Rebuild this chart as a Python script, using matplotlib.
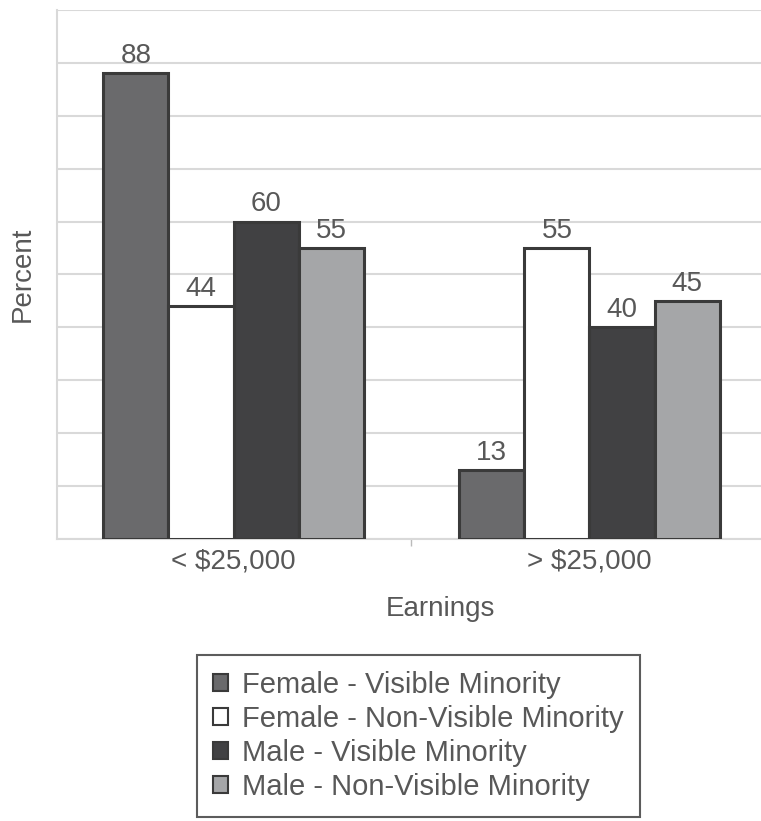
import numpy as np
import matplotlib
matplotlib.use("Agg")
import matplotlib.pyplot as plt
from matplotlib.patches import Patch

# data
categories = ["< $25,000", "> $25,000"]
series = ["Female - Visible Minority", "Female - Non-Visible Minority",
          "Male - Visible Minority", "Male - Non-Visible Minority"]
female_vis = [88, 13]
female_nonvis = [44, 55]
male_vis = [60, 40]
male_nonvis = [55, 45]

values = [female_vis, female_nonvis, male_vis, male_nonvis]
colors = ["#6a6a6c", "#ffffff", "#414143", "#a5a6a8"]
edge = "#3a3a3a"
text_col = "#585858"
fs = 20

plt.rcParams['font.family'] = ['Liberation Sans', 'DejaVu Sans']

fig = plt.figure(figsize=(7.61, 8.21), dpi=100)
ax = fig.add_axes([0.0749, 0.3435, 0.9251, 0.6445])

x = np.arange(len(categories))
w = 0.183
for i, vals in enumerate(values):
    pos = x + (i - 1.5) * w
    bars = ax.bar(pos, vals, width=w, color=colors[i], edgecolor=edge,
                  linewidth=2.2, zorder=3)
    for b, v in zip(bars, vals):
        ax.text(b.get_x() + b.get_width() / 2, v + 0.8, str(v),
                ha="center", va="bottom", fontsize=fs, color=text_col)

ax.set_xlim(-0.496, 1.482)
ax.set_ylim(0, 100)
ax.set_yticks(np.arange(0, 101, 10))
ax.set_yticklabels([])
ax.tick_params(axis="y", length=0)
ax.grid(axis="y", color="#d9d9d9", linewidth=1.5, zorder=0)

ax.set_xticks([0.5], minor=True)
ax.tick_params(axis="x", which="minor", length=5, color="#bbbbbb", width=1)
ax.set_xticks(x)
ax.set_xticklabels(categories, fontsize=fs, color=text_col)
ax.tick_params(axis="x", which="major", length=0, pad=7)

for s in ["top", "right"]:
    ax.spines[s].set_visible(False)
ax.spines["left"].set_color("#d9d9d9")
ax.spines["left"].set_linewidth(1.5)
ax.spines["bottom"].set_color("#d9d9d9")
ax.spines["bottom"].set_linewidth(1.5)

ax.set_ylabel("Percent", fontsize=fs, color=text_col, labelpad=12)
ax.set_xlabel("Earnings", fontsize=fs, color=text_col)
ax.xaxis.set_label_coords(0.544, -0.107)

handles = [Patch(facecolor=c, edgecolor=edge, linewidth=1.5) for c in colors]
leg = fig.legend(handles, series, loc="upper left",
                 bbox_to_anchor=(197 / 761, 1 - 655 / 821),
                 fontsize=21, frameon=True, fancybox=False,
                 handlelength=0.5, handleheight=0.5, handletextpad=0.5,
                 labelspacing=0.2, borderpad=0.55, borderaxespad=0)
leg.get_frame().set_edgecolor("#333333")
leg.get_frame().set_linewidth(1.5)
for t in leg.get_texts():
    t.set_color(text_col)

fig.savefig("out.png", dpi=100)
